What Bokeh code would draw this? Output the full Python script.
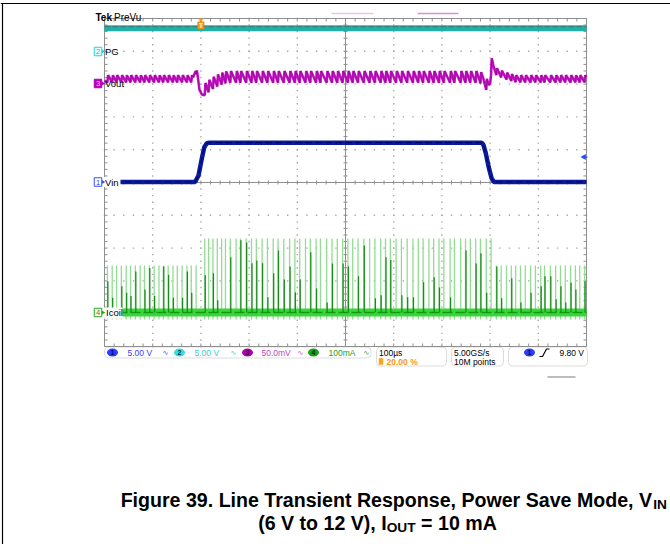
import numpy as np
from bokeh.plotting import figure
from bokeh.models import Range1d, BoxAnnotation
from bokeh.core.properties import value
from bokeh.embed import file_html
from bokeh.resources import INLINE

# ---------------- data ----------------
us_per_div = 100
trigger_pct = 20.00
trigger_level_v = 9.80
sample_rate = "5.00GS/s"
record_len = "10M points"
ch_names = ["Vin", "PG", "Vout", "Icoil"]
ch_scale_text = ["5.00 V", "5.00 V", "50.0mV", "100mA"]
ch_scale = [5.0, 5.0, 50.0, 100.0]          # units / division
vin_offset_v = 6.0

# Vin (ch1) step 6 V -> 12 V -> 6 V
vin_t_us = [-500, -312, -305, -298, -293, -288, -282, 282, 286, 291, 297, 303, 308, 500]
vin_v = [6.0, 6.0, 7.0, 9.6, 11.3, 11.9, 12.0, 12.0, 11.7, 10.4, 8.3, 6.6, 6.0, 6.0]

# PG (ch2) stays high
pg_t_us = [-500, 500]
pg_v = [3.5, 3.5]

# Icoil (ch4) power-save bursts: spike times (us) and heights (mA)
low1_t = [-494, -484, -475, -465, -455, -446, -436, -426, -417, -407, -397, -387,
          -378, -368, -358, -349, -339, -329, -320, -310]
low1_dark = [95, 45, 0, 80, 60, 50, 125, 0, 70, 135, 50, 0, 140, 115, 45, 0, 45, 125, 60, 0]
high_t = [-292, -284, -275, -266, -257, -249, -239, -227, -218, -206,
          -195, -185, -173, -162, -150, -140, -128, -116, -105, -95,
          -83, -73, -61, -52, -39, -28, -17, -6, 5, 15, 26, 38, 50, 61, 73, 83, 93, 105,
          116, 128, 140, 151, 161, 173, 183, 194, 204, 217, 226, 239, 249, 259, 270, 280, 292, 302]
high_dark = [113, 0, 119, 37, 0, 0, 168, 0, 220, 213, 150, 158, 150, 46, 119, 189, 100, 140, 61, 100,
             0, 183, 73, 0, 30, 149, 0, 149, 140, 0, 110, 204, 0, 43, 52, 168, 160, 0, 52, 46,
             46, 0, 92, 0, 107, 76, 0, 46, 0, 0, 189, 0, 149, 180, 60, 0]
low2_t = [313, 323, 334, 344, 353, 363, 373, 384, 394, 405, 413, 425, 436, 446, 456, 467, 477, 486, 496]
low2_dark = [140, 43, 0, 104, 0, 30, 0, 60, 0, 80, 110, 110, 40, 80, 30, 90, 70, 0, 95]
icoil_peak_ma = [143, 225, 143]        # low Vin / high Vin / low Vin
icoil_under_ma = -22

# Vout (ch3) ripple per region and transient deviation (mV)
vout_mean_mv = [8, 11, 8]
vout_pp_mv = [11, 18, 11]
vout_evt_t = [-500, -316, -311, -307, -303, -298, -290, -280, -270, -258, -245,
              278, 286, 292, 297, 300, 303, 307, 316, 328, 340, 355, 500]
vout_evt_mv = [0, 0, 16, 2, -18, -22, -18, -12, -7, -3, 0,
               0, -4, -11, -14, -6, 20, 14, 10, 6, 3, 0, 0]

caption1 = [("Figure 39. Line Transient Response, Power Save Mode, V", False), ("IN", True)]
caption2 = [("(6 V to 12 V), I", False), ("OUT", True), (" = 10 mA", False)]

# ---------------- styles / layout ----------------
CH_POS = [0.015, 4.0, 3.0, -3.96]
C_CH1, C_CH2, C_CH3, C_CH4 = "#3a4cff", "#2fcfcf", "#b400b4", "#22a822"
FONT = value("Liberation Sans")
W, H = 670, 544


def X(px):
    return (px - 345.0) * 100.0 / 48.2


def Y(py):
    return (182.0 - py) / 32.8


PXX = 100.0 / 48.2
PXY = 1.0 / 32.8

p = figure(width=W, height=H, x_range=Range1d(X(0), X(W)), y_range=Range1d(Y(H), Y(0)),
           x_axis_type=None, y_axis_type=None, toolbar_location=None, output_backend="svg",
           min_border=0, outline_line_color=None, title=None,
           background_fill_color="white", border_fill_color="white")

# ---------------- graticule ----------------
GR = "#a8a8a8"
dots_x, dots_y = [], []
for k in range(1, 10):
    if k == 5:
        continue
    gx = -500 + 100 * k
    for j in range(51):
        dots_x.append(gx)
        dots_y.append(-5 + 0.2 * j)
    gy = -5 + k
    for j in range(51):
        dots_x.append(-500 + 20 * j)
        dots_y.append(gy)
p.scatter(dots_x, dots_y, marker="square", size=1.4, fill_color=GR, line_color=None)

sx0, sy0, sx1, sy1 = [], [], [], []


def S(a, b, c, d):
    sx0.append(a); sy0.append(b); sx1.append(c); sy1.append(d)


S(0, -5, 0, 5); S(-500, 0, 500, 0)
S(-500, -5, -500, 5); S(500, -5, 500, 5); S(-500, -5, 500, -5); S(-500, 5, 500, 5)
for j in range(51):
    yy = -5 + 0.2 * j
    S(-2 * PXX, yy, 2 * PXX, yy)
    S(-500, yy, -500 + 3 * PXX, yy)
    S(500 - 3 * PXX, yy, 500, yy)
    xx = -500 + 20 * j
    S(xx, -2 * PXY, xx, 2 * PXY)
    S(xx, -5, xx, -5 + 3 * PXY)
    S(xx, 5 - 3 * PXY, xx, 5)
p.segment(sx0, sy0, sx1, sy1, line_color="#8f8f8f", line_width=1)

# ---------------- traces ----------------
def idiv(ma):
    return np.asarray(ma, dtype=float) / ch_scale[3] + CH_POS[3]


regions = [(low1_t, low1_dark), (high_t, high_dark), (low2_t, low2_dark)]
lt, lp, dt, dh = [], [], [], []
for (ts, dk), pk in zip(regions, icoil_peak_ma):
    for t, d in zip(ts, dk):
        lt.append(t); lp.append(pk)
        if d > 0:
            dt.append(t + 1.0); dh.append(d)
p.segment(lt, idiv([icoil_under_ma] * len(lt)), lt, idiv(lp), line_color="#93dc93", line_width=1.3)
p.line([-500, 500], idiv([0, 0]), line_color="#38d638", line_width=8)
p.line([-500, 500], idiv([0, 0]), line_color="#129a12", line_width=1.5, line_dash="10 3")
p.segment(dt, idiv([0] * len(dt)), dt, idiv(dh), line_color="#1a8c1a", line_width=1.3)

# Vout
spk_t, spk_m, spk_pp = [], [], []
for (ts, _), m, pp in zip(regions, vout_mean_mv, vout_pp_mv):
    for t in ts:
        spk_t.append(t); spk_m.append(m); spk_pp.append(pp)
vt = [-500.0]
vv = [spk_m[0] - spk_pp[0] / 4]
for t, m, pp in zip(spk_t, spk_m, spk_pp):
    vt += [t, t + 1.5]
    vv += [m - pp / 2, m + pp / 2]
vt.append(500.0)
vv.append(spk_m[-1] + spk_pp[-1] / 4)
ts_all = np.union1d(vt, vout_evt_t)
vout_mv = np.interp(ts_all, vt, vv) + np.interp(ts_all, vout_evt_t, vout_evt_mv)
vout_y = vout_mv / ch_scale[2] + CH_POS[2]
p.line(ts_all, vout_y, line_color="#c616c6", line_width=2.6)
p.line(ts_all, vout_y, line_color="#80007f", line_width=0.7, line_alpha=0.7)

# PG
pg_y = np.array(pg_v) / ch_scale[1] + CH_POS[1]
p.line(pg_t_us, pg_y, line_color="#1fb0a8", line_width=6)
p.line(pg_t_us, pg_y + 1.8 * PXY, line_color="#3d7f7c", line_width=1.2, line_dash="6 2")

# Vin
vin_y = (np.array(vin_v) - vin_offset_v) / ch_scale[0] + CH_POS[0]
p.line(vin_t_us, vin_y, line_color="#0b1b9c", line_width=4.5)
p.line(vin_t_us, vin_y, line_color="#00096a", line_width=1.2, line_dash="7 3")

# ---------------- channel markers and labels ----------------
p.quad(left=[X(103), X(103)], right=[X(120), X(122)],
       top=[Y(176.5), Y(307)], bottom=[Y(186.5), Y(318)], fill_color="white", line_color=None)
mk_y = [Y(181.5), Y(51), Y(83), Y(312)]
mk_col = [C_CH1, C_CH2, C_CH3, C_CH4]
mk_fill = ["white", "#e8ffff", C_CH3, "white"]
mk_txt = ["#2a3cff", "#22b8b8", "#f4c4f4", "#1a901a"]
p.rect([X(97.5)] * 4, mk_y, width=7.5 * PXX, height=8.5 * PXY, fill_color=mk_fill,
       line_color=mk_col, line_width=1)
p.scatter([X(102.5)] * 4, mk_y, marker="triangle", angle=-np.pi / 2, size=4,
          fill_color=mk_col, line_color=None)
p.text([X(97.5)] * 4, mk_y, text=["1", "2", "3", "4"], text_color=mk_txt, text_font=FONT,
       text_font_size=value("7.5px"), text_align="center", text_baseline="middle")
p.text([X(104.5), X(104.5), X(104.5), X(105.5)], [Y(181.5), Y(51), Y(83), Y(312)],
       text=[ch_names[0], ch_names[1], ch_names[2], ch_names[3]], text_color="black", text_font=FONT,
       text_font_size=value("9.5px"), text_align="left", text_baseline="middle")

# Tek PreVu + record bar
p.text([X(95)], [Y(17)], text=["Tek"], text_font=FONT, text_font_size=value("10px"),
       text_font_style="bold", text_color="black", text_baseline="alphabetic")
p.text([X(113.5)], [Y(17)], text=["PreVu"], text_font=FONT, text_font_size=value("10px"),
       text_color="black", text_baseline="alphabetic")
p.segment([X(331), X(417)], [Y(13)] * 2, [X(373), X(458)], [Y(13)] * 2,
          line_color=["#ecc3ec", "#d293d2"], line_width=1.5)

# trigger position marker (orange T) and trigger level arrow
trig_t = -5 * us_per_div + trigger_pct / 100.0 * 10 * us_per_div
p.scatter([trig_t], [Y(19.5)], marker="triangle", angle=np.pi, size=5, fill_color="#f39a1a", line_color=None)
p.rect([trig_t], [Y(25)], width=6 * PXX, height=7 * PXY, fill_color="#f6a328", line_color="#d9860a")
p.text([trig_t], [Y(25)], text=["T"], text_font=FONT, text_font_size=value("6.5px"), text_font_style="bold",
       text_color="#fff2d0", text_align="center", text_baseline="middle")
trig_y = (trigger_level_v - vin_offset_v) / ch_scale[0] + CH_POS[0]
p.scatter([X(583.5)], [trig_y], marker="triangle", angle=np.pi / 2, size=6, fill_color="#2848ff", line_color=None)
p.segment([X(583.5)], [trig_y], [X(587)], [trig_y], line_color="#2848ff", line_width=1.2)

# ---------------- status bar ----------------
for l, r, t, b in [(104, 370.5, 346.5, 357.5), (376, 446, 346.5, 365.5),
                   (451, 503, 346.5, 365.5), (508, 587, 346.5, 365.5)]:
    p.add_layout(BoxAnnotation(left=X(l), right=X(r), top=Y(t), bottom=Y(b), fill_alpha=0,
                               line_color="#8c8c8c", line_width=1, border_radius=4, level="underlay"))
sb_y = Y(352)
ell_x = [X(112), X(179), X(247), X(313), X(529)]
ell_fill = ["#2a3cff", "#38dede", "#b000b0", "#16a416", "#2a3cff"]
ell_txt = ["#000a70", "#003838", "#3a003a", "#002a00", "#000a70"]
p.ellipse(ell_x, [sb_y] * 5, width=11 * PXX, height=8 * PXY, fill_color=ell_fill, line_color=None)
p.text(ell_x, [sb_y] * 5, text=["1", "2", "3", "4", "1"], text_color=ell_txt, text_font=FONT,
       text_font_size=value("7px"), text_font_style="bold", text_align="center", text_baseline="middle")
sc_col = ["#3c3cff", "#36d2d2", "#c23ec2", "#1ea01e"]
p.text([X(127), X(194), X(261), X(328)], [sb_y] * 4, text=ch_scale_text, text_color=sc_col,
       text_font=FONT, text_font_size=value("8.5px"), text_align="left", text_baseline="middle")
p.text([X(165), X(233), X(300), X(366)], [sb_y] * 4, text=["\u223f"] * 4, text_color=sc_col,
       text_font=value("DejaVu Sans"), text_font_size=value("7px"), text_align="center", text_baseline="middle")
p.text([X(378.5), X(453.5), X(453.5)], [Y(352.5), Y(352.5), Y(361)],
       text=[f"{us_per_div}\u00b5s", sample_rate, record_len], text_color="black", text_font=FONT,
       text_font_size=value("8.5px"), text_align="left", text_baseline="middle")
p.rect([X(380.5)], [Y(361)], width=4.5 * PXX, height=6.5 * PXY, fill_color="#f6a328", line_color=None)
p.text([X(386)], [Y(361)], text=[f"{trigger_pct:.2f} %"], text_color="#f59a10", text_font=FONT,
       text_font_size=value("8.5px"), text_font_style="bold", text_align="left", text_baseline="middle")
p.line([X(539), X(542), X(546), X(549)], [Y(356), Y(356), Y(348.5), Y(348.5)], line_color="black", line_width=1.2)
p.text([X(583.5)], [sb_y], text=[f"{trigger_level_v:.2f} V"], text_color="black", text_font=FONT,
       text_font_size=value("8.5px"), text_align="right", text_baseline="middle")
p.segment([X(547)], [Y(376.5)], [X(575)], [Y(376.5)], line_color="#7a7a7a", line_width=1)

# page border lines
p.segment([X(0), X(2)], [Y(3), Y(3)], [X(W), X(2)], [Y(3), Y(H)], line_color="black", line_width=1.2)

# ---------------- caption ----------------
AW = {' ': 278, '(': 333, ')': 333, ',': 278, '.': 278, '=': 584, 'A': 722, 'F': 611, 'I': 278,
      'L': 611, 'M': 833, 'N': 722, 'O': 778, 'P': 667, 'R': 722, 'S': 667, 'T': 611, 'U': 722,
      'V': 667, 'a': 556, 'd': 611, 'e': 556, 'g': 611, 'i': 278, 'm': 889, 'n': 611, 'o': 611,
      'p': 611, 'r': 389, 's': 556, 't': 333, 'u': 611, 'v': 556, 'w': 778}
FS = 19.6
SUB = 0.70


def tw(s, fs):
    return sum(AW.get(c, 556) for c in s) / 1000.0 * fs


def draw_caption(pieces, x_start, base_py):
    xs, ys, txt, sz = [], [], [], []
    x = x_start
    for s, sub in pieces:
        fs = FS * SUB if sub else FS
        lead = len(s) - len(s.lstrip(" "))
        x += tw(" " * lead, fs)
        core = s.lstrip(" ")
        xs.append(X(x)); ys.append(Y(base_py + (4.5 if sub else 0))); txt.append(core)
        sz.append(f"{fs:.1f}px")
        x += tw(core, fs)
    p.text(xs, ys, text=txt, text_font=FONT, text_font_style="bold", text_font_size=sz,
           text_color="black", text_align="left", text_baseline="alphabetic")


w1 = sum(tw(s, FS * SUB if b else FS) for s, b in caption1)
w2 = sum(tw(s, FS * SUB if b else FS) for s, b in caption2)
draw_caption(caption1, 666.5 - w1, 499.5)
draw_caption(caption2, 377 - w2 / 2, 522.5)

open("out.html", "w").write(file_html(p, INLINE))
